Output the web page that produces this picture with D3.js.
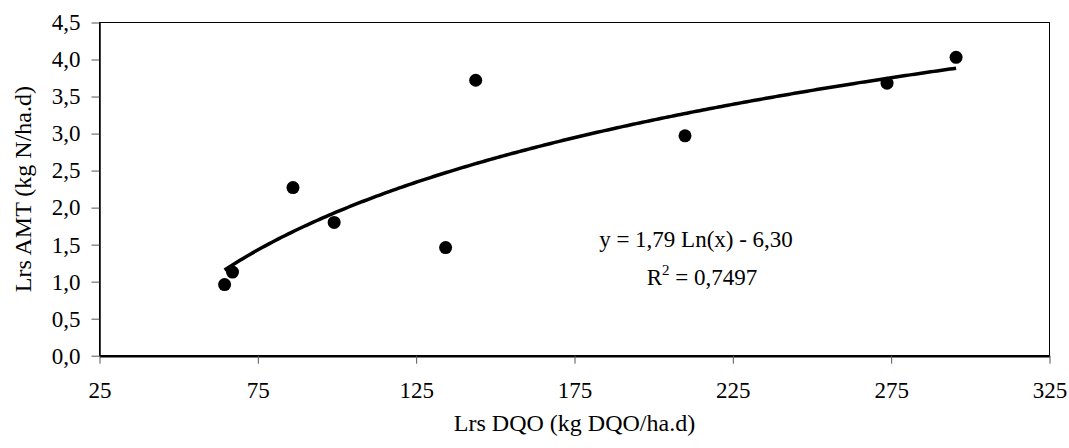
<!DOCTYPE html>
<html><head><meta charset="utf-8">
<script src="https://cdn.jsdelivr.net/npm/d3@7"></script>
<style>body{margin:0;background:#fff}svg{display:block}text{font-family:"Liberation Serif","Times New Roman",serif;fill:#000}</style>
</head><body><svg id="c" width="1069" height="448"></svg>
<script>
const lrsDQO = [64.5, 67.0, 86.1, 99.1, 134.3, 143.8, 209.9, 273.7, 295.5];
const lrsAMT = [0.96, 1.13, 2.27, 1.80, 1.46, 3.72, 2.97, 3.68, 4.03];
const xTicks = [25, 75, 125, 175, 225, 275, 325];
const yTicks = [0, 0.5, 1, 1.5, 2, 2.5, 3, 3.5, 4, 4.5];
const trendA = 1.79, trendB = -6.30;
const eqLabel = "y = 1,79 Ln(x) - 6,30";
const r2Label = "0,7497";

const svg = d3.select("#c");
const L = 99.5, R = 1049.5, T = 22.5, B = 355.7;
const x = d3.scaleLinear().domain([25, 325]).range([L, R]);
const y = d3.scaleLinear().domain([0, 4.5]).range([B, T]);
const fmt = v => d3.format(".1f")(v).replace(".", ",");

// plot border
svg.append("rect").attr("x", L).attr("y", T).attr("width", R - L).attr("height", B - T)
  .attr("fill", "none").attr("stroke", "#000").attr("stroke-width", 1);

const xa = svg.append("g").attr("transform", `translate(0,${B})`)
  .call(d3.axisBottom(x).tickValues(xTicks).tickSize(8).tickSizeOuter(0).tickPadding(18));
xa.select(".domain").attr("stroke", "#000").attr("stroke-width", 2.5);
xa.selectAll(".tick line").attr("stroke", "#555");
xa.selectAll(".tick text").attr("font-size", 23).attr("dy", "0.71em");

const ya = svg.append("g").attr("transform", `translate(${L},0)`)
  .call(d3.axisLeft(y).tickValues(yTicks).tickFormat(fmt).tickSize(8).tickSizeOuter(0).tickPadding(11));
ya.select(".domain").attr("stroke", "#000").attr("stroke-width", 1.5);
ya.selectAll(".tick line").attr("stroke", "#555");
ya.selectAll(".tick text").attr("font-size", 23);

// trendline
const xs = d3.range(d3.min(lrsDQO), d3.max(lrsDQO) + 0.01, 1);
svg.append("path").datum(xs)
  .attr("d", d3.line().x(d => x(d)).y(d => y(trendA * Math.log(d) + trendB)))
  .attr("fill", "none").attr("stroke", "#000").attr("stroke-width", 3.5);

// points
svg.selectAll("circle.pt").data(lrsDQO).join("circle").attr("class", "pt")
  .attr("cx", d => x(d)).attr("cy", (d, i) => y(lrsAMT[i])).attr("r", 6.5).attr("fill", "#000");

// equation
svg.append("text").attr("x", 696).attr("y", 247).attr("text-anchor", "middle").attr("font-size", 23).text(eqLabel);
const r2 = svg.append("text").attr("x", 702).attr("y", 285).attr("text-anchor", "middle").attr("font-size", 23);
r2.append("tspan").text("R");
r2.append("tspan").attr("font-size", 15).attr("dy", -10).text("2");
r2.append("tspan").attr("dy", 10).text(" = " + r2Label);

// axis titles
svg.append("text").attr("x", (L + R) / 2).attr("y", 431).attr("text-anchor", "middle").attr("font-size", 24).text("Lrs DQO (kg DQO/ha.d)");
svg.append("text").attr("transform", `translate(31,${(T + B) / 2}) rotate(-90)`).attr("text-anchor", "middle").attr("font-size", 24).text("Lrs AMT (kg N/ha.d)");
</script></body></html>
